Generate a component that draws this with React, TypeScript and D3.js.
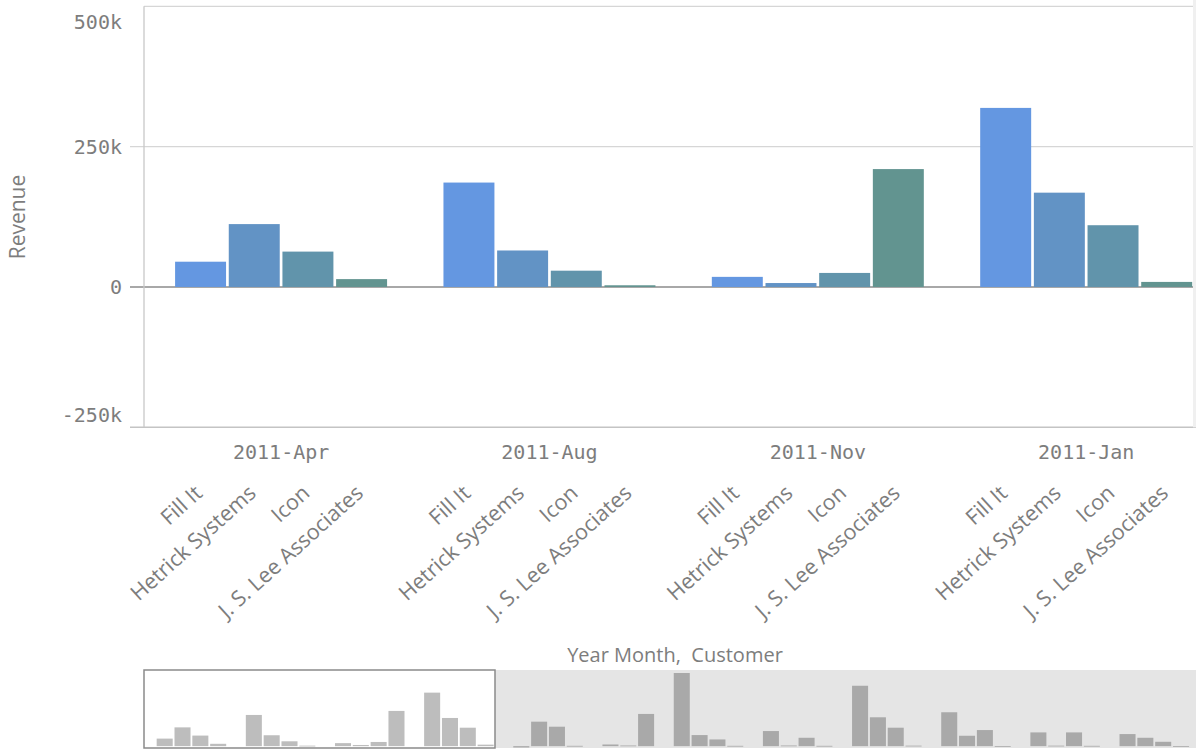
import React from "react";
import * as d3 from "d3";

// ---------- data ----------
const customers = ["Fill It", "Hetrick Systems", "Icon", "J. S. Lee Associates"];
const visibleMonths = ["2011-Apr", "2011-Aug", "2011-Nov", "2011-Jan"];
const revApr = [45000, 112000, 63000, 14000];
const revAug = [186000, 65000, 29000, 3000];
const revNov = [18000, 7000, 25000, 210000];
const revJan = [319000, 168000, 110000, 9000];
const yTicks = [-250000, 0, 250000, 500000];
const yTickLabels = ["-250k", "0", "250k", "500k"];
// remaining groups, visible only in the overview (mini) chart
const overviewRest = [
  [-8000, 146000, 116000, 2000],
  [10000, 4000, 192000],
  [436000, 66000, 40000, 2000],
  [90000, 4000, 50000, 2000],
  [360000, 172000, 110000, 3000],
  [202000, 62000, 96000, 0],
  [82000, 3000, 82000, 2000],
  [72000, 50000, 26000, 0],
];
const customerColors = ["#6497e1", "#6293c5", "#6194ab", "#629490"];

type Slot = { gi: number; i: number; v: number; slot: number };
function layout(groups: number[][]): Slot[] {
  let s = 0;
  const out: Slot[] = [];
  groups.forEach((g, gi) => {
    g.forEach((v, i) => {
      out.push({ gi, i, v, slot: s });
      s++;
    });
    s++;
  });
  return out;
}

const W = 1196;
const H = 751;
const PL = 144;
const PR = 1196;

export default function App() {
  const mainGroups = [revApr, revAug, revNov, revJan];
  const allGroups = [...mainGroups, ...overviewRest];
  const mainSlots = layout(mainGroups);
  const navSlots = layout(allGroups);

  const x = d3.scaleLinear().domain([-0.555, 19.045]).range([PL, PR]);
  const y = d3.scaleLinear().domain([-250000, 500000]).range([427.3, 6.3]);
  const slotW = x(1) - x(0);
  const barW = slotW - 2.7;

  const xn = d3.scaleLinear().domain([-0.66, 58.34]).range([PL, PR]);
  const nSlotW = xn(1) - xn(0);
  const yn = d3.scaleLinear().domain([-8000, 436000]).range([747.5, 673]);
  const winRight = 495;

  const mono = "'DejaVu Sans Mono', monospace";
  const sans = "'Open Sans', sans-serif";
  const labelColor = "#7d7d7d";

  const groupCenters = mainGroups.map((_, gi) => {
    const s = mainSlots.filter((d) => d.gi === gi);
    const a = x(s[0].slot) + slotW / 2;
    const b = x(s[s.length - 1].slot) + slotW / 2;
    return (a + b) / 2;
  });

  return (
    <svg
      width={W}
      height={H}
      style={{ position: "absolute", left: 0, top: 0, background: "#fff" }}
    >
      {/* gridlines */}
      {yTicks.map((t) => (
        <line
          key={"g" + t}
          x1={t === 500000 ? PL : 130}
          x2={PR}
          y1={y(t)}
          y2={y(t)}
          stroke={t === 0 ? "#a8a8a8" : t === -250000 ? "#c4c4c4" : "#d6d6d6"}
          strokeWidth={t === 0 ? 2 : t === -250000 ? 1.5 : 1.2}
        />
      ))}
      <line x1={PL} x2={PL} y1={y(500000)} y2={y(-250000)} stroke="#c8c8c8" strokeWidth={1.3} />
      <rect x={PR - 3} y={0} width={3} height={y(-250000)} fill="#f0f0f0" />

      {/* y labels */}
      {yTicks.map((t, k) => (
        <text
          key={"yl" + t}
          x={122}
          y={y(t) + (t === 500000 ? 16 : t === -250000 ? -12 : 0)}
          textAnchor="end"
          dominantBaseline="central"
          fontFamily={mono}
          fontSize={20}
          fill={labelColor}
        >
          {yTickLabels[k]}
        </text>
      ))}
      <text
        transform={`translate(17,217) rotate(-90)`}
        textAnchor="middle"
        dominantBaseline="central"
        fontFamily={sans}
        fontSize={21}
        fill={labelColor}
      >
        Revenue
      </text>

      {/* bars */}
      {mainSlots.map((d) => (
        <rect
          key={"b" + d.slot}
          x={x(d.slot) + 1.3}
          width={barW}
          y={y(Math.max(0, d.v))}
          height={Math.abs(y(d.v) - y(0))}
          fill={customerColors[d.i]}
        />
      ))}

      {/* group labels */}
      {visibleMonths.map((m, gi) => (
        <text
          key={"m" + m}
          x={groupCenters[gi]}
          y={459}
          textAnchor="middle"
          fontFamily={mono}
          fontSize={20}
          fill={labelColor}
        >
          {m}
        </text>
      ))}
      {/* customer labels */}
      {mainSlots.map((d) => (
        <text
          key={"c" + d.slot}
          transform={`translate(${x(d.slot) + slotW / 2 + 3},495) rotate(-42)`}
          textAnchor="end"
          fontFamily={sans}
          fontSize={21.5}
          fill={labelColor}
        >
          {customers[d.i]}
        </text>
      ))}
      <text
        x={675}
        y={662}
        textAnchor="middle"
        fontFamily={sans}
        fontSize={20}
        fill={labelColor}
        style={{ whiteSpace: "pre" }}
      >
        {"Year Month,  Customer"}
      </text>

      {/* overview */}
      <rect x={PL} y={670} width={PR - PL} height={78} fill="#e5e5e5" />
      <rect x={PL} y={670} width={winRight - PL} height={78} fill="#ffffff" />
      {navSlots.map((d) => (
        <rect
          key={"n" + d.slot}
          x={xn(d.slot) + 0.9}
          width={nSlotW - 1.8}
          y={yn(Math.max(0, d.v))}
          height={Math.max(0.8, Math.abs(yn(d.v) - yn(0)))}
          fill={d.gi < 4 ? "#bdbdbd" : "#a9a9a9"}
        />
      ))}
      <rect
        x={PL}
        y={670}
        width={winRight - PL}
        height={78}
        fill="none"
        stroke="#8a8a8a"
        strokeWidth={1.5}
      />
    </svg>
  );
}
